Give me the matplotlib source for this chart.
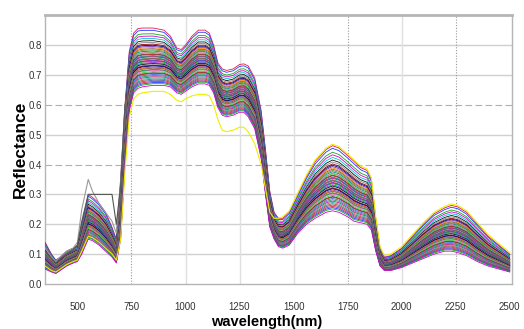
import matplotlib
matplotlib.use("Agg")
import matplotlib.pyplot as plt
import numpy as np

# wavelengths (nm)
wl = [350, 380, 400, 420, 450, 480, 500, 520, 550, 570, 600, 630, 660, 680, 700,
      720, 740, 760, 780, 800, 850, 900, 930, 960, 980, 1000, 1030, 1060, 1090, 1110,
      1130, 1150, 1170, 1190, 1220, 1250, 1270, 1290, 1320, 1350, 1370, 1390, 1410,
      1430, 1450, 1480, 1520, 1560, 1600, 1650, 1680, 1710, 1750, 1780, 1810, 1840,
      1860, 1880, 1900, 1920, 1950, 2000, 2050, 2100, 2150, 2200, 2230, 2260, 2300,
      2350, 2400, 2450, 2500]

# upper envelope of the spectra bundle
upper = [0.14, 0.10, 0.08, 0.09, 0.11, 0.12, 0.13, 0.20, 0.30, 0.29, 0.27, 0.24, 0.19, 0.15, 0.35,
         0.60, 0.78, 0.84, 0.855, 0.857, 0.857, 0.85, 0.83, 0.79, 0.785, 0.80, 0.83, 0.85, 0.85, 0.84,
         0.80, 0.74, 0.72, 0.715, 0.72, 0.735, 0.737, 0.73, 0.69, 0.58, 0.45, 0.31, 0.24,
         0.22, 0.22, 0.24, 0.30, 0.36, 0.41, 0.45, 0.463, 0.455, 0.43, 0.41, 0.39, 0.38,
         0.35, 0.22, 0.12, 0.09, 0.095, 0.12, 0.16, 0.20, 0.235, 0.255, 0.263, 0.258, 0.24,
         0.20, 0.16, 0.13, 0.10]

# lower envelope of the spectra bundle
lower = [0.05, 0.04, 0.035, 0.045, 0.06, 0.07, 0.075, 0.10, 0.15, 0.145, 0.13, 0.11, 0.09, 0.07, 0.15,
         0.40, 0.58, 0.64, 0.655, 0.66, 0.665, 0.665, 0.66, 0.64, 0.635, 0.645, 0.66, 0.67, 0.67, 0.665,
         0.64, 0.59, 0.565, 0.56, 0.565, 0.575, 0.575, 0.56, 0.52, 0.42, 0.30, 0.19, 0.15,
         0.125, 0.12, 0.13, 0.17, 0.20, 0.22, 0.24, 0.245, 0.24, 0.225, 0.21, 0.205, 0.20,
         0.18, 0.11, 0.06, 0.045, 0.045, 0.055, 0.07, 0.085, 0.10, 0.11, 0.11, 0.105, 0.095,
         0.075, 0.06, 0.05, 0.04]

# yellow sample spectrum (lowest in NIR, near top in SWIR)
yellow = [0.06, 0.045, 0.04, 0.05, 0.065, 0.075, 0.08, 0.11, 0.16, 0.155, 0.14, 0.12, 0.10, 0.08, 0.15,
          0.38, 0.56, 0.62, 0.635, 0.64, 0.645, 0.645, 0.635, 0.615, 0.61, 0.62, 0.63, 0.635, 0.635, 0.63,
          0.60, 0.55, 0.515, 0.51, 0.515, 0.525, 0.525, 0.51, 0.47, 0.40, 0.32, 0.24, 0.22,
          0.22, 0.225, 0.245, 0.305, 0.365, 0.415, 0.455, 0.468, 0.46, 0.435, 0.415, 0.395, 0.385,
          0.355, 0.225, 0.125, 0.095, 0.10, 0.125, 0.165, 0.205, 0.24, 0.26, 0.268, 0.263, 0.245,
          0.205, 0.165, 0.135, 0.105]

# relative position of each sample spectrum inside the bundle
positions = [1.00, 0.96, 0.90, 0.86, 0.82, 0.78, 0.75, 0.72, 0.70, 0.68, 0.66, 0.64, 0.62,
             0.60, 0.58, 0.57, 0.55, 0.54, 0.52, 0.51, 0.50, 0.48, 0.47, 0.46, 0.44, 0.43,
             0.42, 0.40, 0.39, 0.38, 0.36, 0.35, 0.34, 0.32, 0.31, 0.30, 0.28, 0.27, 0.26,
             0.24, 0.22, 0.21, 0.19, 0.17, 0.15, 0.13, 0.11, 0.09, 0.07, 0.05, 0.03, 0.00]

# outlier spectra in the visible range (350-700 nm)
outlier_peak = [0.12, 0.09, 0.075, 0.09, 0.11, 0.12, 0.14, 0.25, 0.35, 0.31, 0.27, 0.24, 0.21, 0.17, 0.35]
outlier_flat = [0.11, 0.085, 0.07, 0.085, 0.10, 0.115, 0.13, 0.21, 0.30, 0.30, 0.30, 0.30, 0.30, 0.20, 0.33]

colors = ['#e6194b', '#1f3cff', '#18a818', '#d400d4', '#00c8d0', '#111111', '#888888',
          '#8b0000', '#000080', '#7b2fbe', '#ff7f0e', '#8c564b', '#6b8e23', '#008080',
          '#ff69b4', '#32cd32', '#444444', '#b22222', '#4169e1', '#2e8b57', '#c71585',
          '#20b2aa', '#a0522d', '#555599']

x = np.array(wl)
up = np.array(upper)
lo = np.array(lower)

fig = plt.figure(figsize=(5.24, 3.29), dpi=100)
ax = fig.add_axes([0.0859, 0.1368, 0.891, 0.817])

for i, p in enumerate(positions):
    ax.plot(x, lo + p * (up - lo), color=colors[i % len(colors)], lw=0.6, zorder=3)

ax.plot(x, yellow, color='#eeee00', lw=0.8, zorder=3)
n = len(outlier_peak)
ax.plot(x[:n + 1], list(outlier_peak) + [upper[n]], color='#999999', lw=0.8, zorder=3)
ax.plot(x[:n + 1], list(outlier_flat) + [upper[n]], color='#555555', lw=0.8, zorder=3)

ax.set_xlim(350, 2510)
ax.set_ylim(0, 0.9)
ax.set_xticks([500, 750, 1000, 1250, 1500, 1750, 2000, 2250, 2500])
ax.set_yticks([0.0, 0.1, 0.2, 0.3, 0.4, 0.5, 0.6, 0.7, 0.8])
ax.set_yticklabels(['0.0', '0.1', '0.2', '0.3', '0.4', '0.5', '0.6', '0.7', '0.8'])

for yv in [0.1, 0.2, 0.3, 0.5, 0.7, 0.8]:
    ax.axhline(yv, color='#d0d0d0', lw=1.0, zorder=1)
for yv in [0.4, 0.6]:
    ax.axhline(yv, color='#b0b0b0', lw=0.8, ls=(0, (6, 3)), zorder=1)
for xv in [1000, 1250, 1500, 2000]:
    ax.axvline(xv, color='#e0e0e0', lw=1.0, zorder=1)
for xv in [750, 1750, 2250]:
    ax.axvline(xv, color='#999999', lw=0.8, ls=(0, (1, 1.5)), zorder=1)

for s in ax.spines.values():
    s.set_color('#b5b5b5')
    s.set_linewidth(1.0)
ax.spines['top'].set_linewidth(2.0)

ax.tick_params(axis='both', length=0, labelsize=7, colors='#333333')
ax.tick_params(axis='y', pad=2)
ax.tick_params(axis='x', pad=13)
for lab in ax.get_xticklabels() + ax.get_yticklabels():
    lab.set_family('Liberation Sans')

ax.set_xlabel('wavelength(nm)', fontsize=10.5, fontweight='bold', family='Liberation Sans')
ax.xaxis.set_label_coords(0.475, -0.115)
ax.set_ylabel('Reflectance', fontsize=12.5, fontweight='bold', family='Liberation Sans')
ax.yaxis.set_label_coords(-0.037, 0.5)

fig.savefig('out.png', dpi=100)
